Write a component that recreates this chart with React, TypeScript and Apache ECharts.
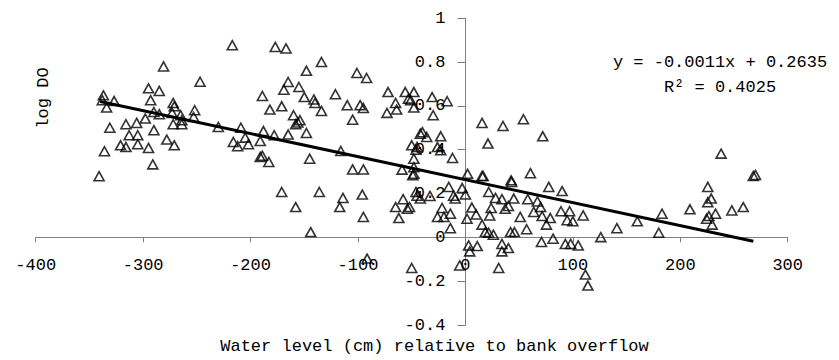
import React, { useEffect, useRef } from "react";
import * as echarts from "echarts";

// Observations: [water level relative to bank overflow (cm), log DO]
const OBSERVATIONS: [number, number][] = [
  [-217, 0.877], [-177, 0.869], [-167, 0.862], [-281, 0.78], [-134, 0.8], [-148, 0.76],
  [-101, 0.75], [-92, 0.727], [-247, 0.71], [-165, 0.709], [-169, 0.674], [-155, 0.686],
  [-295, 0.68], [-285, 0.668], [-337, 0.648], [-338, 0.626], [-327, 0.622], [-334, 0.592],
  [-293, 0.626], [-272, 0.613], [-271, 0.598], [-189, 0.645], [-150, 0.64], [-141, 0.629],
  [-140, 0.613], [-121, 0.653], [-171, 0.598], [-182, 0.583], [-134, 0.577], [-110, 0.603],
  [-98, 0.603], [-95, 0.59], [-72, 0.663], [-56, 0.663], [-48, 0.663], [-65, 0.613],
  [-73, 0.568], [-64, 0.583], [-53, 0.633], [-48, 0.592], [-51, 0.626], [-105, 0.537],
  [-290, 0.572], [-285, 0.562], [-298, 0.542], [-273, 0.568], [-265, 0.557], [-252, 0.58],
  [-253, 0.549], [-264, 0.534], [-264, 0.516], [-272, 0.516], [-306, 0.522], [-316, 0.516],
  [-331, 0.5], [-313, 0.466], [-305, 0.466], [-290, 0.489], [-321, 0.42], [-316, 0.412],
  [-305, 0.425], [-295, 0.408], [-278, 0.446], [-271, 0.42], [-336, 0.393], [-291, 0.333],
  [-341, 0.279], [-230, 0.504], [-209, 0.5], [-188, 0.485], [-178, 0.466], [-165, 0.469],
  [-148, 0.476], [-160, 0.557], [-154, 0.534], [-158, 0.516], [-156, 0.524], [-216, 0.435],
  [-205, 0.455], [-202, 0.425], [-212, 0.416], [-191, 0.44], [-191, 0.367], [-189, 0.372],
  [-183, 0.344], [-145, 0.359], [-116, 0.394], [-105, 0.31], [-95, 0.31], [-59, 0.309],
  [-48, 0.29], [-48, 0.32], [-50, 0.42], [-45, 0.412], [-46, 0.4], [-48, 0.359],
  [-42, 0.473], [-31, 0.64], [-17, 0.621], [-30, 0.557], [-40, 0.48], [-36, 0.458],
  [-23, 0.461], [-26, 0.412], [-23, 0.397], [-12, 0.362], [15.5, 0.522], [35, 0.508],
  [54, 0.539], [72, 0.461], [21, 0.428], [238, 0.382], [268, 0.28], [270, 0.285],
  [2, 0.29], [15.5, 0.28], [60.5, 0.293], [42.5, 0.26], [-49, 0.283],
  [-171, 0.207], [-136, 0.207], [-158, 0.138], [-114, 0.18], [-117, 0.138], [-96, 0.195],
  [-95, 0.093], [-144, 0.024], [-91.5, -0.097], [-65, 0.138], [-58, 0.174], [-62, 0.088],
  [-54, 0.131], [-52, 0.138], [-46, 0.207], [-45, 0.19], [-42, 0.177], [-33, 0.189],
  [-26, 0.093], [-50, -0.14], [-15.5, 0.23], [-3, 0.225], [-11, 0.19], [-9.5, 0.177],
  [0, 0.195], [-21.7, 0.134], [-20, 0.093], [-14, 0.108], [-14, 0.042], [1.5, 0.085],
  [6, 0.136], [10, 0.104], [15.5, 0.058], [21.7, 0.207], [28, 0.18], [34, 0.174],
  [24, 0.134], [22.6, 0.1], [37, 0.13], [40, 0.143], [45, 0.177], [43, 0.253],
  [16.5, 0.28], [51, 0.093], [57, 0.037], [18.5, 0.024], [21.6, 0.021], [26, 0.012],
  [42, 0.024], [45.6, 0.024], [58, 0.174], [67, 0.164], [70, 0.138], [77.6, 0.23],
  [90, 0.211], [63.6, 0.116], [71.4, 0.097], [79, 0.088], [75.4, 0.058], [89, 0.119],
  [97, 0.119], [94.7, 0.078], [100, 0.073], [109.6, 0.1], [126, 0.001], [141, 0.042],
  [70.8, -0.021], [81.6, -0.006], [93, -0.03], [98, -0.03], [105, -0.037], [3, -0.037],
  [11, -0.04], [4, -0.064], [34, -0.03], [40, -0.049], [34, -0.064], [-5.3, -0.128],
  [31, -0.14], [111.7, -0.17], [114, -0.22],
  [160, 0.073], [183, 0.108], [180, 0.021], [209, 0.128], [225.6, 0.23], [225.6, 0.16],
  [228.8, 0.177], [224.5, 0.085], [226.6, 0.097], [232.8, 0.108], [229.7, 0.058],
  [248, 0.123], [258.6, 0.138],
];

// Linear trend line end points (as drawn in the original)
const TREND_LINE: [number, number][] = [
  [-340, 0.62],
  [268, -0.018],
];

const X_MIN = -400;
const X_MAX = 300;
const X_STEP = 100;
const Y_MIN = -0.4;
const Y_MAX = 1;
const Y_STEP = 0.2;

const X_TITLE = "Water level (cm) relative to bank overflow";
const Y_TITLE = "log DO";
const EQUATION = "y = -0.0011x + 0.2635";
const R_SQUARED = "R² = 0.4025";

const FONT = '"Liberation Mono", "DejaVu Sans Mono", monospace';

const WIDTH = 839;
const HEIGHT = 360;
const GRID_LEFT = 35.7;
const GRID_RIGHT = 51.3;
const GRID_TOP = 18.2;
const GRID_BOTTOM = 35;

export default function App() {
  const ref = useRef<HTMLDivElement>(null);

  useEffect(() => {
    if (!ref.current) return;
    const chart = echarts.init(ref.current, undefined, { renderer: "svg" });
    const axisGray = "#808080";
    const plotW = WIDTH - GRID_LEFT - GRID_RIGHT;
    const plotH = HEIGHT - GRID_TOP - GRID_BOTTOM;
    // distance of the crossing (0,0) from the grid's left and bottom edges
    const zeroFromLeft = ((0 - X_MIN) / (X_MAX - X_MIN)) * plotW;
    const zeroFromBottom = ((0 - Y_MIN) / (Y_MAX - Y_MIN)) * plotH;
    chart.setOption({
      animation: false,
      grid: { left: GRID_LEFT, right: GRID_RIGHT, top: GRID_TOP, bottom: GRID_BOTTOM, containLabel: false },
      xAxis: {
        type: "value",
        position: "bottom",
        offset: -zeroFromBottom,
        min: X_MIN,
        max: X_MAX,
        interval: X_STEP,
        axisLine: { show: true, onZero: false, lineStyle: { color: axisGray, width: 1 } },
        axisTick: { show: true, length: 5, lineStyle: { color: axisGray } },
        axisLabel: { margin: 20, color: "#000", fontSize: 17, fontFamily: FONT },
        splitLine: { show: false },
      },
      yAxis: {
        type: "value",
        position: "left",
        offset: -zeroFromLeft,
        min: Y_MIN,
        max: Y_MAX,
        interval: Y_STEP,
        axisLine: { show: true, onZero: false, lineStyle: { color: axisGray, width: 1 } },
        axisTick: { show: true, length: 8, lineStyle: { color: axisGray } },
        axisLabel: { margin: 20, color: "#000", fontSize: 17, fontFamily: FONT },
        splitLine: { show: false },
      },
      series: [
        {
          type: "scatter",
          data: OBSERVATIONS,
          symbol: "triangle",
          symbolSize: [10, 9],
          itemStyle: { color: "rgba(0,0,0,0)", borderColor: "#000", borderWidth: 1.6 },
          z: 2,
        },
        {
          type: "line",
          data: TREND_LINE,
          showSymbol: false,
          symbol: "none",
          lineStyle: { color: "#000", width: 3 },
          z: 3,
        },
      ],
      graphic: [
        {
          type: "text",
          x: 43,
          y: 98,
          rotation: Math.PI / 2,
          style: {
            text: Y_TITLE,
            fill: "#000",
            fontSize: 17,
            fontFamily: FONT,
            align: "center",
            verticalAlign: "middle",
          },
        },
        {
          type: "text",
          x: 434.5,
          y: 346,
          style: {
            text: X_TITLE,
            fill: "#000",
            fontSize: 17,
            fontFamily: FONT,
            align: "center",
            verticalAlign: "middle",
          },
        },
        {
          type: "text",
          x: 720,
          y: 62,
          style: {
            text: EQUATION,
            fill: "#000",
            fontSize: 17,
            fontFamily: FONT,
            align: "center",
            verticalAlign: "middle",
          },
        },
        {
          type: "text",
          x: 720,
          y: 87,
          style: {
            text: R_SQUARED,
            fill: "#000",
            fontSize: 17,
            fontFamily: FONT,
            align: "center",
            verticalAlign: "middle",
          },
        },
      ],
    });
    return () => chart.dispose();
  }, []);

  return (
    <div
      ref={ref}
      style={{ position: "absolute", left: 0, top: 0, width: WIDTH, height: HEIGHT }}
    />
  );
}
